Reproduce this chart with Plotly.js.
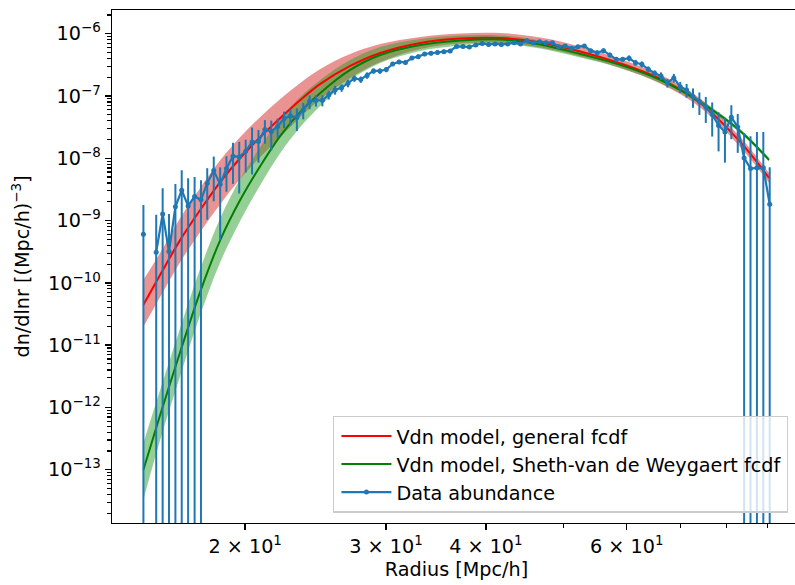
<!DOCTYPE html>
<html><head><meta charset="utf-8">
<script src="https://cdn.plot.ly/plotly-3.0.1.min.js"></script>
<style>html,body{margin:0;padding:0;overflow:hidden;background:#fff}#chart{width:801px;height:585px}</style>
</head><body><div id="chart"></div><script>
// Radii of the model curves (Mpc/h)
const modelR = [14.92,15.66,16.59,17.57,18.62,19.72,20.89,22.13,23.44,24.83,27.06,29.51,33.11,37.15,41.69,46.77,52.48,58.88,66.06,74.13,83.18,90.38];
// Vdn model, general fcdf
const redLine  = [4.44e-11,1.35e-10,4.90e-10,1.48e-9,4.18e-9,1.01e-8,2.20e-8,4.44e-8,8.63e-8,1.56e-7,3.03e-7,4.90e-7,7.10e-7,8.37e-7,8.53e-7,7.23e-7,5.18e-7,3.33e-7,1.88e-7,7.73e-8,1.83e-8,4.84e-9];
const redUpper = [1.12e-10,3.03e-10,1.10e-9,3.34e-9,9.42e-9,2.20e-8,4.61e-8,8.95e-8,1.62e-7,2.72e-7,4.73e-7,6.82e-7,8.85e-7,1.007e-6,1.026e-6,8.69e-7,6.22e-7,3.93e-7,2.21e-7,9.12e-8,2.20e-8,5.82e-9];
const redLower = [1.97e-11,5.97e-11,2.17e-10,6.58e-10,1.85e-9,4.67e-9,1.05e-8,2.20e-8,4.60e-8,8.95e-8,1.95e-7,3.52e-7,5.69e-7,6.97e-7,7.10e-7,6.01e-7,4.31e-7,2.82e-7,1.59e-7,6.55e-8,1.52e-8,4.03e-9];
// Vdn model, Sheth-van de Weygaert fcdf
const greenLine  = [1.00e-13,7.64e-13,7.82e-12,7.18e-11,4.90e-10,2.15e-9,7.53e-9,2.29e-8,5.55e-8,1.12e-7,2.62e-7,4.55e-7,6.59e-7,7.78e-7,8.07e-7,6.71e-7,4.72e-7,3.15e-7,1.81e-7,8.02e-8,2.75e-8,9.42e-9];
const greenUpper = [2.69e-13,1.92e-12,1.90e-11,1.68e-10,1.10e-9,4.67e-9,1.52e-8,4.29e-8,9.66e-8,1.81e-7,3.78e-7,6.11e-7,8.22e-7,9.35e-7,9.35e-7,7.78e-7,5.37e-7,3.52e-7,2.02e-7,8.79e-8,2.96e-8,1.01e-8];
const greenLower = [3.31e-14,3.03e-13,3.22e-12,3.07e-11,2.17e-10,9.89e-10,3.73e-9,1.22e-8,3.18e-8,6.92e-8,1.81e-7,3.39e-7,5.28e-7,6.47e-7,6.97e-7,5.79e-7,4.15e-7,2.82e-7,1.62e-7,7.31e-8,2.55e-8,8.75e-9];
// Data abundance
const dataR = [14.92,15.20,15.48,15.77,16.06,16.36,16.66,16.97,17.29,17.61,17.93,18.27,18.61,18.95,19.31,19.66,20.03,20.40,20.78,21.17,21.56,21.96,22.37,22.78,23.21,23.64,24.08,24.52,24.98,25.44,25.91,26.40,26.89,27.39,27.90,28.41,28.94,29.48,30.03,30.58,31.15,31.73,32.32,32.92,33.53,34.15,34.79,35.44,36.09,36.76,37.45,38.14,38.85,39.57,40.31,41.06,41.82,42.60,43.39,44.19,45.00,45.84,46.69,47.56,48.44,49.34,50.25,51.19,52.14,53.11,54.09,55.10,56.12,57.16,58.23,59.31,60.41,61.53,62.67,63.84,65.02,66.23,67.46,68.71,69.99,71.29,72.61,73.96,75.34,76.74,78.16,79.61,81.09,82.60,84.13,85.69,87.29,88.91,90.56];
const dataN = [6.05e-10,null,3.11e-10,1.28e-9,3.18e-10,1.66e-9,3.07e-9,1.72e-9,2.43e-9,2.15e-9,3.98e-9,6.34e-9,3.81e-9,6.83e-9,1.08e-8,1.05e-8,1.29e-8,1.83e-8,1.85e-8,2.90e-8,2.68e-8,3.24e-8,4.33e-8,4.78e-8,4.52e-8,5.97e-8,8.17e-8,8.48e-8,8.54e-8,1.04e-7,1.25e-7,1.35e-7,1.60e-7,1.91e-7,1.84e-7,2.14e-7,2.52e-7,2.52e-7,2.66e-7,3.27e-7,3.52e-7,3.45e-7,4.07e-7,4.28e-7,4.72e-7,4.85e-7,4.99e-7,5.14e-7,5.28e-7,6.23e-7,6.23e-7,6.12e-7,6.59e-7,6.96e-7,6.71e-7,6.84e-7,6.71e-7,6.84e-7,7.17e-7,6.84e-7,7.72e-7,7.17e-7,7.44e-7,7.17e-7,7.17e-7,6.19e-7,6.35e-7,5.83e-7,6.19e-7,6.35e-7,5.34e-7,4.96e-7,5.34e-7,4.55e-7,3.88e-7,3.88e-7,4.03e-7,3.42e-7,3.23e-7,2.68e-7,2.32e-7,2.10e-7,1.62e-7,1.95e-7,1.40e-7,1.25e-7,9.83e-8,8.17e-8,6.67e-8,5.05e-8,3.37e-8,2.65e-8,4.56e-8,3.18e-8,1.01e-8,6.88e-9,7.01e-9,7.01e-9,1.83e-9];
const dataErr = [1.18e-9,null,9.23e-10,2.03e-9,9.53e-10,2.22e-9,3.36e-9,3.07e-9,2.56e-9,2.27e-9,2.95e-9,4.30e-9,3.33e-9,3.93e-9,6.92e-9,7.78e-9,6.98e-9,1.28e-8,1.00e-8,1.19e-8,1.34e-8,1.11e-8,1.28e-8,1.41e-8,1.78e-8,1.76e-8,2.03e-8,1.72e-8,1.73e-8,1.65e-8,1.99e-8,1.86e-8,2.21e-8,2.23e-8,2.15e-8,2.50e-8,2.44e-8,2.44e-8,2.58e-8,2.52e-8,2.71e-8,2.66e-8,3.13e-8,3.30e-8,3.63e-8,3.73e-8,3.84e-8,3.96e-8,4.07e-8,4.30e-8,4.30e-8,4.22e-8,4.55e-8,4.80e-8,4.63e-8,4.72e-8,4.63e-8,4.72e-8,4.95e-8,4.72e-8,5.33e-8,4.95e-8,5.13e-8,4.95e-8,4.95e-8,4.27e-8,4.38e-8,4.02e-8,4.27e-8,4.38e-8,3.68e-8,4.20e-8,4.52e-8,3.85e-8,3.28e-8,3.28e-8,4.39e-8,3.73e-8,3.52e-8,2.92e-8,2.53e-8,2.90e-8,2.58e-8,3.10e-8,2.84e-8,3.10e-8,3.38e-8,3.22e-8,2.98e-8,2.82e-8,2.08e-8,1.80e-8,2.54e-8,1.96e-8,1.53e-8,1.56e-8,1.95e-8,1.95e-8,5.35e-9];

const xTickVals = [20, 30, 40, 60];
const xTickText = ['2 × 10<sup>1</sup>', '3 × 10<sup>1</sup>', '4 × 10<sup>1</sup>', '6 × 10<sup>1</sup>'];
const xMinorVals = [50, 70, 80, 90];
const yTickVals = [1e-13, 1e-12, 1e-11, 1e-10, 1e-9, 1e-8, 1e-7, 1e-6];
const yTickText = ['10<sup>−13</sup>', '10<sup>−12</sup>', '10<sup>−11</sup>', '10<sup>−10</sup>', '10<sup>−9</sup>', '10<sup>−8</sup>', '10<sup>−7</sup>', '10<sup>−6</sup>'];

const yMinor = [];
for (let k = -14; k <= -6; k++) for (let m = 2; m <= 9; m++) yMinor.push(m * Math.pow(10, k));

const FONT = 'DejaVu Sans, Verdana, sans-serif';
const FS = 19.2;
const RED_BAND = 'rgba(214,39,40,0.5)';
const GREEN_BAND = 'rgba(44,160,44,0.5)';

const traces = [
  {x: modelR, y: redLower, mode: 'lines', line: {width: 0, shape: 'spline', color: RED_BAND}, showlegend: false, hoverinfo: 'skip'},
  {x: modelR, y: redUpper, mode: 'lines', line: {width: 0, shape: 'spline', color: RED_BAND}, fill: 'tonexty', fillcolor: RED_BAND, showlegend: false, hoverinfo: 'skip'},
  {x: modelR, y: greenLower, mode: 'lines', line: {width: 0, shape: 'spline', color: GREEN_BAND}, showlegend: false, hoverinfo: 'skip'},
  {x: modelR, y: greenUpper, mode: 'lines', line: {width: 0, shape: 'spline', color: GREEN_BAND}, fill: 'tonexty', fillcolor: GREEN_BAND, showlegend: false, hoverinfo: 'skip'},
  {x: modelR, y: redLine, mode: 'lines', name: 'Vdn model, general fcdf', line: {color: '#ff0000', width: 2, shape: 'spline'}},
  {x: modelR, y: greenLine, mode: 'lines', name: 'Vdn model, Sheth-van de Weygaert fcdf', line: {color: '#008000', width: 2, shape: 'spline'}},
  {x: dataR, y: dataN, mode: 'lines+markers', name: 'Data abundance', connectgaps: false,
   line: {color: '#1f77b4', width: 2.2}, marker: {color: '#1f77b4', size: 5},
   error_y: {type: 'data', array: dataErr, visible: true, color: '#1f77b4', thickness: 2, width: 0}}
];

const axisCommon = {
  type: 'log', showgrid: false, zeroline: false,
  showline: true, linecolor: '#000', linewidth: 1.4, mirror: true,
  ticks: 'outside', ticklen: 6, tickwidth: 1.4, tickcolor: '#000',
  tickfont: {family: FONT, size: FS, color: '#000'}
};

const layout = {
  width: 801, height: 585,
  margin: {l: 112, r: 0, t: 10, b: 62},
  paper_bgcolor: '#fff', plot_bgcolor: '#fff',
  font: {family: FONT, size: FS, color: '#000'},
  xaxis: Object.assign({}, axisCommon, {
    range: [Math.log10(13.63), Math.log10(99.1)],
    tickmode: 'array', tickvals: xTickVals, ticktext: xTickText,
    minor: {tickmode: 'array', tickvals: xMinorVals, ticks: 'outside', ticklen: 3.5, tickwidth: 1.2, tickcolor: '#000', showgrid: false},
    title: {text: 'Radius [Mpc/h]', font: {family: FONT, size: FS, color: '#000'}, standoff: 5}
  }),
  yaxis: Object.assign({}, axisCommon, {
    range: [-13.855, -5.62],
    tickmode: 'array', tickvals: yTickVals, ticktext: yTickText,
    minor: {tickmode: 'array', tickvals: yMinor, ticks: 'outside', ticklen: 3.5, tickwidth: 1.2, tickcolor: '#000', showgrid: false}
  }),
  annotations: [{
    text: 'dn/dlnr [(Mpc/h)<sup>−3</sup>]', textangle: -90,
    xref: 'paper', yref: 'paper', x: (21 - 112) / 689, y: 0.5,
    xanchor: 'center', yanchor: 'middle', showarrow: false,
    font: {family: FONT, size: FS, color: '#000'}
  }],
  legend: {x: 0.3208, y: 0.02, xanchor: 'left', yanchor: 'bottom', traceorder: 'normal',
    itemwidth: 50, indentation: 2,
    bgcolor: 'rgba(255,255,255,0.8)', bordercolor: '#cccccc', borderwidth: 1.4,
    font: {family: FONT, size: FS, color: '#000'}},
  showlegend: true
};

Plotly.newPlot('chart', traces, layout, {displayModeBar: false, staticPlot: true});
</script></body></html>
